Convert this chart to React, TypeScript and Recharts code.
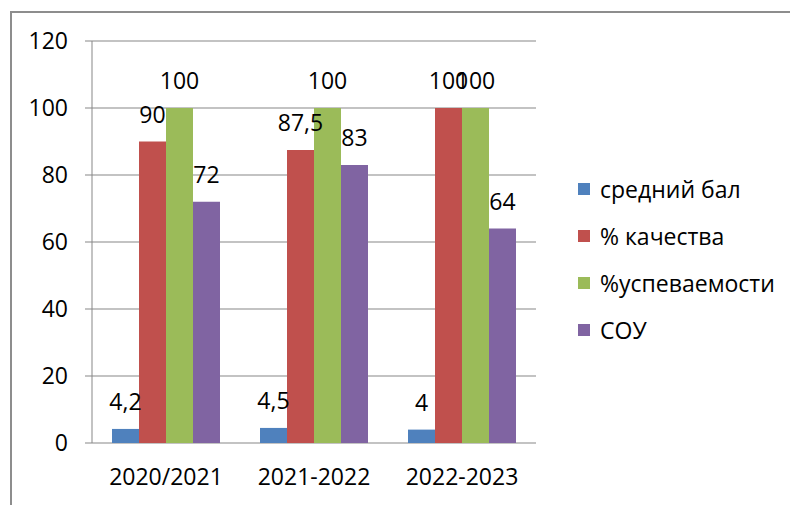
import { BarChart, Bar, XAxis, YAxis, CartesianGrid, Legend, LabelList } from "recharts";

const years = ["2020/2021", "2021-2022", "2022-2023"];
const avgScore = [4.2, 4.5, 4];
const quality = [90, 87.5, 100];
const progress = [100, 100, 100];
const sou = [72, 83, 64];
const yTicks = [0, 20, 40, 60, 80, 100, 120];

const series = [
  { key: "avg", name: "средний бал", color: "#4F81BD" },
  { key: "quality", name: "% качества", color: "#C0504D" },
  { key: "progress", name: "%успеваемости", color: "#9BBB59" },
  { key: "sou", name: "СОУ", color: "#8064A2" },
];

const data = years.map((year, i) => ({
  year,
  avg: avgScore[i],
  quality: quality[i],
  progress: progress[i],
  sou: sou[i],
}));

const fmt = (v: any) => String(v).replace(".", ",");

function LegendBox() {
  return (
    <div>
      {series.map((s) => (
        <div
          key={s.key}
          style={{ display: "flex", alignItems: "center", height: 47, fontSize: 23, color: "#000" }}
        >
          <span style={{ width: 12, height: 12, background: s.color, marginRight: 10 }} />
          <span>{s.name}</span>
        </div>
      ))}
    </div>
  );
}

export default function App() {
  return (
    <div
      style={{
        position: "absolute",
        left: 0,
        top: 0,
        width: 790,
        height: 505,
        overflow: "hidden",
        background: "#fff",
        fontFamily: "'Open Sans', sans-serif",
      }}
    >
      <div
        style={{
          position: "absolute",
          left: 10,
          top: 11,
          width: 900,
          height: 600,
          border: "2px solid #8d8d8d",
        }}
      />
      <BarChart
        width={790}
        height={505}
        data={data}
        margin={{ top: 41, right: 254, bottom: 12, left: 12 }}
        barCategoryGap={20}
        barGap={0}
      >
        <CartesianGrid vertical={false} stroke="#878787" />
        <XAxis
          xAxisId="edges"
          type="number"
          domain={[0, 3]}
          ticks={[0, 1, 2, 3]}
          allowDataOverflow
          height={0}
          tick={() => <g />}
          tickSize={7}
          tickLine={{ stroke: "#878787" }}
          axisLine={{ stroke: "#878787" }}
        />
        <XAxis
          dataKey="year"
          height={50}
          tickLine={false}
          axisLine={false}
          tickMargin={20}
          tick={{ fill: "#000", fontSize: 23 }}
        />
        <YAxis
          width={80}
          domain={[0, 120]}
          ticks={yTicks}
          tickSize={7}
          tickMargin={17}
          tickLine={{ stroke: "#878787" }}
          axisLine={{ stroke: "#878787" }}
          tick={{ fill: "#000", fontSize: 23 }}
        />
        <Legend
          layout="vertical"
          align="center"
          verticalAlign="middle"
          content={() => <LegendBox />}
          wrapperStyle={{ left: 578, top: 165, width: 220 }}
        />
        {series.map((s) => (
          <Bar key={s.key} dataKey={s.key} name={s.name} fill={s.color} isAnimationActive={false}>
            <LabelList
              dataKey={s.key}
              position="top"
              offset={19}
              formatter={fmt}
              style={{ fill: "#000", fontSize: 23 }}
            />
          </Bar>
        ))}
      </BarChart>
    </div>
  );
}
